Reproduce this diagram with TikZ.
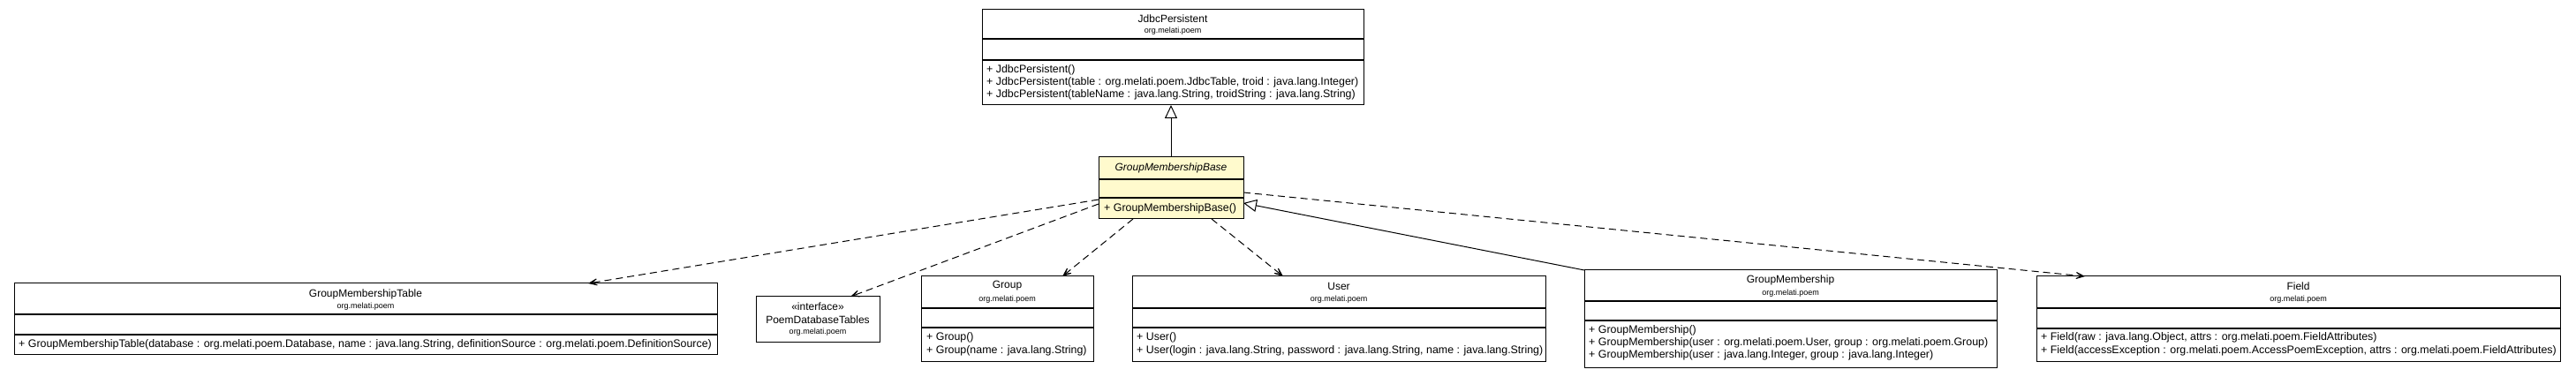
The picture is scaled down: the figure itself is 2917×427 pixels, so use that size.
\documentclass[tikz,border=0pt]{standalone}
\usepackage{fontspec}
\setmainfont{Liberation Sans}
\usetikzlibrary{arrows.meta,calc}
\definecolor{gmbfill}{RGB}{255,250,205}
\tikzset{
  box/.style={draw, line width=1pt, inner sep=0pt, outer sep=0pt, anchor=north west},
  sep/.style={line width=1.2pt},
  cname/.style={font=\fontsize{12}{14}\selectfont, inner sep=0pt},
  pkg/.style={font=\fontsize{9}{11}\selectfont, inner sep=0pt},
  meth/.style={font=\fontsize{12.4}{14}\selectfont, inner sep=0pt, anchor=west},
  dep/.style={line width=1pt, dash pattern=on 8pt off 5pt, -{Stealth[length=16pt,width=13pt,inset=11pt]}},
  gen/.style={line width=1pt, -{Triangle[open,length=15pt,width=14pt,fill=white]}},
}
\begin{document}
\begin{tikzpicture}[x=1pt,y=-1pt]
\useasboundingbox (0,0) rectangle (2917,427);

% JdbcPersistent
\node[box, minimum width=432pt, minimum height=108pt] (jp) at (1112,11) {};
\draw[sep] (1112,44) -- (1544,44);
\draw[sep] (1112,68) -- (1544,68);
\node[cname] (jpname) at (1328,21) {JdbcPersistent};
\node[pkg] (jppkg) at (1328,35) {org.melati.poem};
\node[meth] (jpm1) at (1117,79) {+ JdbcPersistent()};
\node[meth] (jpm2) at (1117,93) {+ JdbcPersistent(table : org.melati.poem.JdbcTable, troid : java.lang.Integer)};
\node[meth] (jpm3) at (1117,107) {+ JdbcPersistent(tableName : java.lang.String, troidString : java.lang.String)};

% GroupMembershipBase
\node[box, fill=gmbfill, minimum width=164pt, minimum height=70pt] (gmb) at (1244,178) {};
\draw[sep] (1244,203) -- (1408,203);
\draw[sep] (1244,224) -- (1408,224);
\node[cname, font=\fontsize{12}{14}\selectfont\itshape] (gmbname) at (1326,190) {GroupMembershipBase};
\node[meth] (gmbm1) at (1250,236) {+ GroupMembershipBase()};

% GroupMembershipTable
\node[box, minimum width=796pt, minimum height=80pt] (table) at (16,321) {};
\draw[sep] (16,356) -- (812,356);
\draw[sep] (16,379) -- (812,379);
\node[cname] (tname) at (414,333) {GroupMembershipTable};
\node[pkg] (tpkg) at (414,347) {org.melati.poem};
\node[meth] (tm1) at (21,390) {+ GroupMembershipTable(database : org.melati.poem.Database, name : java.lang.String, definitionSource : org.melati.poem.DefinitionSource)};

% PoemDatabaseTables
\node[box, minimum width=140pt, minimum height=51pt] (pdt) at (856,336) {};
\node[cname] (pdtst) at (926,347) {«interface»};
\node[cname] (pdtname) at (926,362) {PoemDatabaseTables};
\node[pkg] (pdtpkg) at (926,376) {org.melati.poem};

% Group
\node[box, minimum width=195pt, minimum height=96pt] (group) at (1043,313) {};
\draw[sep] (1043,349) -- (1238,349);
\draw[sep] (1043,371) -- (1238,371);
\node[cname] (gname) at (1140.5,324) {Group};
\node[pkg] (gpkg) at (1140.5,339) {org.melati.poem};
\node[meth] (gm1) at (1049,382) {+ Group()};
\node[meth] (gm2) at (1049,397) {+ Group(name : java.lang.String)};

% User
\node[box, minimum width=468pt, minimum height=96pt] (user) at (1282,313) {};
\draw[sep] (1282,349) -- (1750,349);
\draw[sep] (1282,371) -- (1750,371);
\node[cname] (uname) at (1516,324) {User};
\node[pkg] (upkg) at (1516,339) {org.melati.poem};
\node[meth] (um1) at (1287,382) {+ User()};
\node[meth] (um2) at (1287,397) {+ User(login : java.lang.String, password : java.lang.String, name : java.lang.String)};

% GroupMembership
\node[box, minimum width=467pt, minimum height=110pt] (gm) at (1794,306) {};
\draw[sep] (1794,341) -- (2261,341);
\draw[sep] (1794,363) -- (2261,363);
\node[cname] (gmname) at (2027.5,317) {GroupMembership};
\node[pkg] (gmpkg) at (2027.5,332) {org.melati.poem};
\node[meth] (gmm1) at (1799,374) {+ GroupMembership()};
\node[meth] (gmm2) at (1799,388) {+ GroupMembership(user : org.melati.poem.User, group : org.melati.poem.Group)};
\node[meth] (gmm3) at (1799,402) {+ GroupMembership(user : java.lang.Integer, group : java.lang.Integer)};

% Field
\node[box, minimum width=593pt, minimum height=96pt] (field) at (2306,313) {};
\draw[sep] (2306,349) -- (2899,349);
\draw[sep] (2306,372) -- (2899,372);
\node[cname] (fname) at (2602.5,324) {Field};
\node[pkg] (fpkg) at (2602.5,339) {org.melati.poem};
\node[meth] (fm1) at (2311,382) {+ Field(raw : java.lang.Object, attrs : org.melati.poem.FieldAttributes)};
\node[meth] (fm2) at (2311,397) {+ Field(accessException : org.melati.poem.AccessPoemException, attrs : org.melati.poem.FieldAttributes)};

% connectors
\draw[gen] (gmb.north) -- (gmb.north |- jp.south);
\draw[gen] (gm.north west) -- ($(gmb.east)+(0,17)$);
\draw[dep] ($(gmb.west)+(0,13)$) -- ($(table.north west)+(650,0)$);
\draw[dep] ($(gmb.west)+(0,18)$) -- ($(pdt.north west)+(107,0)$);
\draw[dep] ($(gmb.south west)+(39,0)$) -- ($(group.north west)+(160,0)$);
\draw[dep] ($(gmb.south west)+(128,0)$) -- ($(user.north west)+(171,0)$);
\draw[dep] ($(gmb.east)+(0,5)$) -- ($(field.north west)+(55,0)$);
\end{tikzpicture}
\end{document}
